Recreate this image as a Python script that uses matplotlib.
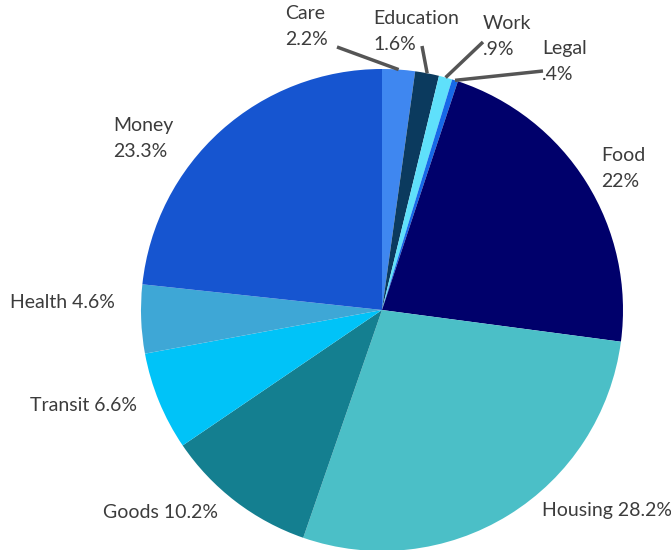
import numpy as np
import matplotlib
matplotlib.use("Agg")
import matplotlib.pyplot as plt

# Share of spending by category, clockwise from 12 o'clock
categories = ["Care", "Education", "Work", "Legal", "Food",
              "Housing", "Goods", "Transit", "Health", "Money"]
shares = [2.2, 1.6, 0.9, 0.4, 22.0, 28.2, 10.2, 6.6, 4.6, 23.3]
colors = ["#3f87f0", "#0b3a5e", "#5fe0fb", "#1668e8", "#00006b",
          "#4bbfc7", "#147f90", "#00c3f8", "#3ea7d6", "#1655d0"]

W, H = 671, 550
fig = plt.figure(figsize=(W / 100, H / 100), dpi=100)
ax = fig.add_axes([0, 0, 1, 1])

cx, cy, R = 382, H - 310, 241
wedges, _ = ax.pie(shares, colors=colors, startangle=90, counterclock=False,
                   center=(cx, cy), radius=R, frame=True,
                   wedgeprops=dict(linewidth=0))
ax.set_xlim(0, W)
ax.set_ylim(0, H)
ax.axis("off")


def fmt(v):
    s = f"{v:.1f}".rstrip("0").rstrip(".")
    if s.startswith("0."):
        s = s[1:]
    return s + "%"


font = dict(family=["Lato", "DejaVu Sans"], fontsize=14, color="#3c3c3c",
            fontweight="normal")

# Label layout: (x, y_top_pixel, two_lines, leader_end)
layout = {
    "Care":      (285, 5, True, (337, 47)),
    "Education": (373, 10, True, (422, 46)),
    "Work":      (483, 15, True, (483, 42)),
    "Legal":     (542, 40, True, (543, 71)),
    "Food":      (601, 147, True, None),
    "Money":     (113, 117, True, None),
    "Health":    (10, 294, False, None),
    "Transit":   (30, 397, False, None),
    "Goods":     (103, 504, False, None),
    "Housing":   (542, 502, False, None),
}

for w, name, v in zip(wedges, categories, shares):
    x, ytop, two, lead = layout[name]
    if two:
        ax.text(x, H - ytop, name, va="top", ha="left", **font)
        ax.text(x, H - ytop - 26, fmt(v), va="top", ha="left", **font)
    else:
        ax.text(x, H - ytop, f"{name} {fmt(v)}", va="top", ha="left", **font)
    if lead is not None:
        ang = np.deg2rad((w.theta1 + w.theta2) / 2)
        px, py = cx + R * np.cos(ang), cy + R * np.sin(ang)
        ax.plot([lead[0], px], [H - lead[1], py], color="#555555",
                lw=2.5, solid_capstyle="butt", zorder=3)

fig.savefig("out.png", dpi=100, facecolor="white")
